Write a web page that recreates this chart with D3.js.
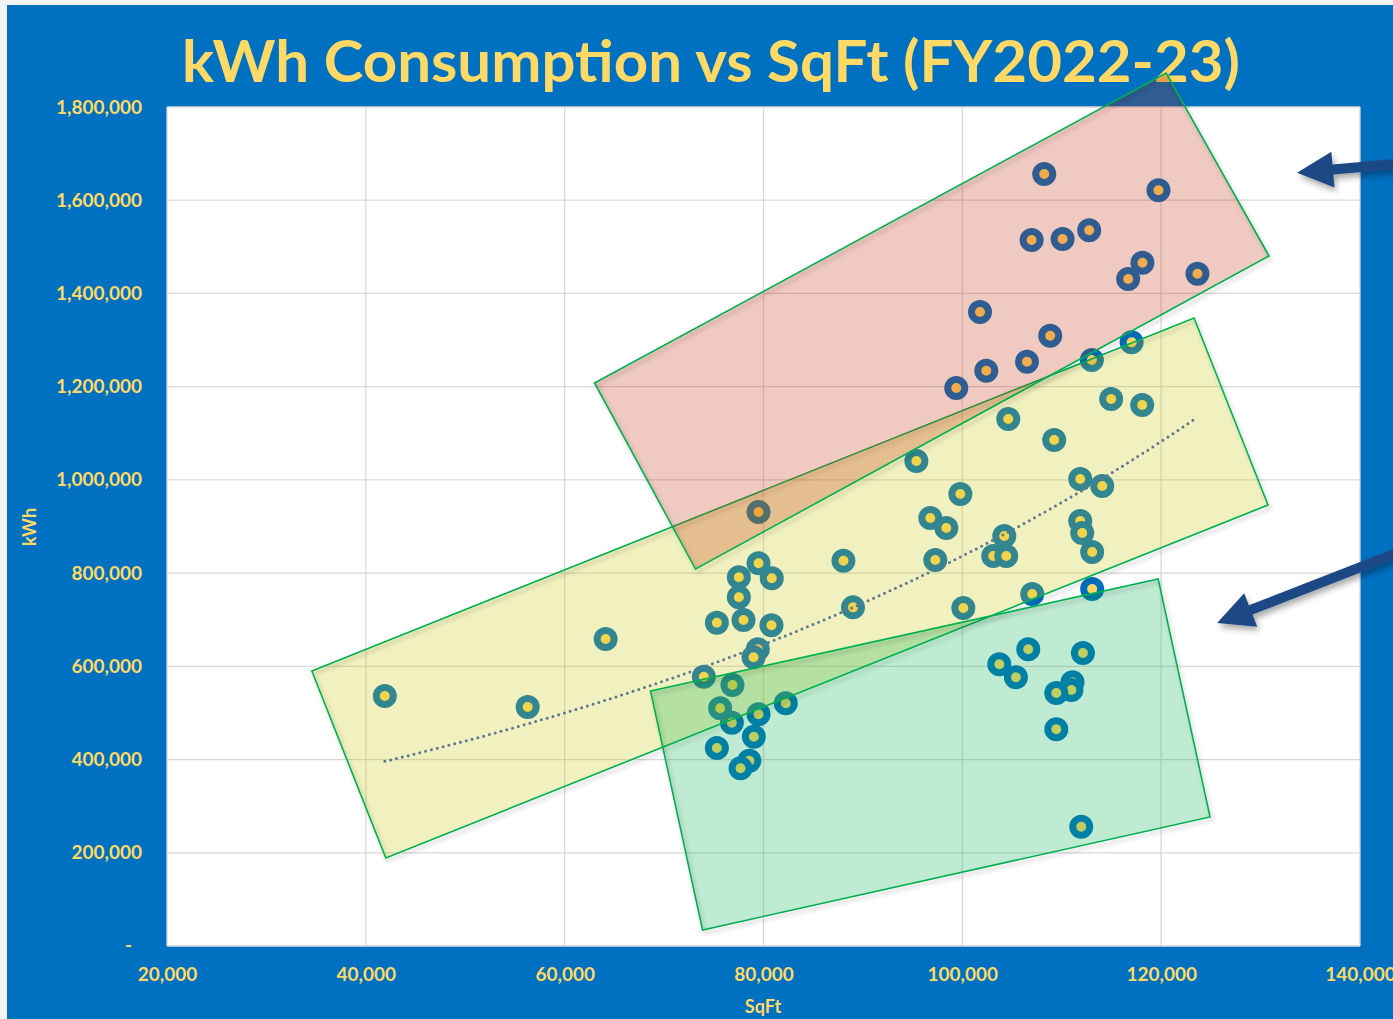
<!DOCTYPE html>
<html><head><meta charset="utf-8">
<script src="https://cdn.jsdelivr.net/npm/d3@7"></script>
<style>
body{margin:0;background:#fff;}
svg{display:block;font-family:Lato,'Open Sans',sans-serif;}
</style>
</head><body><svg id="c" width="1393" height="1019"></svg>
<script>
// ---------- data ----------
const chartTitle = "kWh Consumption vs SqFt (FY2022-23)";
const xAxisTitle = "SqFt";
const yAxisTitle = "kWh";
const xTicks = [20000, 40000, 60000, 80000, 100000, 120000, 140000];
const yTicks = [0, 200000, 400000, 600000, 800000, 1000000, 1200000, 1400000, 1600000, 1800000];

const sqft = [
  108240,119730,106970,110085,112760,118120,116680,123650,101780,108840,106500,102410,99390,113030,117030,79500,
  41910,56280,64120,114970,118090,104620,109240,95380,99800,111860,114070,96780,98390,111860,112060,104220,113060,103110,104420,97280,88040,107030,89000,100100,
  79500,77520,80830,77520,75310,77990,80800,79430,79000,74000,76880,75640,76820,79500,82240,79030,75310,78580,77690,
  113060,106630,103720,105390,112130,111080,110970,109450,109450,111960
];
const kwh = [
  1656250,1621300,1514650,1516800,1535460,1465950,1431000,1442350,1360200,1309400,1253600,1234300,1197100,1257200,1295100,931100,
  536350,512750,658640,1173500,1160700,1130600,1085600,1040500,969700,1001900,986900,918200,896800,911800,886000,879600,845300,836700,836700,828100,826600,755200,726500,725100,
  821000,791000,788800,748100,693600,699400,688000,636500,619400,577700,559950,509900,479100,497100,520700,449000,424800,397500,381200,
  765900,636500,604400,576500,628600,565700,549200,542800,464900,256000
];

// highlight zones (corners in SqFt / kWh units)
const zoneHigh = [[63010,1207860],[120500,1872900],[130850,1480300],[73160,808800]];
const zoneMid  = [[34570,589990],[123310,1347300],[130750,946100],[42010,188800]];
const zoneLow  = [[68640,547100],[119700,787400],[124920,276800],[73870,34300]];

// callout arrows: [tail, tip] in SqFt / kWh units
const arrowHigh = [[146000,1682000],[133670,1659000]];
const arrowLow  = [[146000,862000],[125630,692960]];

// ---------- drawing ----------
const W = 1393, H = 1019;
const svg = d3.select("#c");
const defs = svg.append("defs");
const sh = defs.append("filter").attr("id","shadow").attr("x","-20%").attr("y","-20%").attr("width","140%").attr("height","140%");
sh.append("feDropShadow").attr("dx",2).attr("dy",3).attr("stdDeviation",2).attr("flood-color","#000").attr("flood-opacity",0.25);
const sh2 = defs.append("filter").attr("id","shadow2").attr("x","-20%").attr("y","-20%").attr("width","140%").attr("height","140%");
sh2.append("feDropShadow").attr("dx",2).attr("dy",4).attr("stdDeviation",3).attr("flood-color","#000").attr("flood-opacity",0.35);

const BLUE = "#0070C0", GOLD = "#FFD966";
svg.append("rect").attr("width",W).attr("height",H).attr("fill","#f4f4f4");
svg.append("rect").attr("x",7).attr("y",5).attr("width",W-7).attr("height",H-5).attr("fill",BLUE);

const plot = {l:167, t:107, r:1360, b:946};
const x = d3.scaleLinear().domain([20000,140000]).range([plot.l, plot.r]);
const y = d3.scaleLinear().domain([0,1800000]).range([plot.b, plot.t]);

// title
svg.append("text").attr("x",711).attr("y",82).attr("text-anchor","middle")
  .attr("font-size",58).attr("font-weight",700).attr("fill",GOLD)
  .attr("textLength",1058).attr("lengthAdjust","spacingAndGlyphs")
  .text(chartTitle);

// plot area
svg.append("rect").attr("x",plot.l).attr("y",plot.t).attr("width",plot.r-plot.l).attr("height",plot.b-plot.t)
  .attr("fill","#fff");
const grid = svg.append("g").attr("stroke","#D9D9D9").attr("stroke-width",1.3);
grid.selectAll(".gx").data(xTicks).join("line")
  .attr("x1",d=>x(d)).attr("x2",d=>x(d)).attr("y1",plot.t).attr("y2",plot.b);
grid.selectAll(".gy").data(yTicks).join("line")
  .attr("y1",d=>y(d)).attr("y2",d=>y(d)).attr("x1",plot.l).attr("x2",plot.r);

// axes (using d3 axes, styled)
const fmt = d3.format(",");
const yAxis = d3.axisLeft(y).tickValues(yTicks).tickSize(0).tickPadding(25)
  .tickFormat(d => d === 0 ? "-" : fmt(d));
const gy = svg.append("g").attr("transform",`translate(${plot.l},0)`).call(yAxis);
gy.select(".domain").remove();
gy.selectAll("text").attr("fill",GOLD).attr("font-size",19).attr("font-weight",700)
  .attr("font-family","Lato,'Open Sans',sans-serif");
gy.selectAll(".tick").filter(d=>d===0).select("text").attr("x",-35).attr("dy","0.3em");

const xAxis = d3.axisBottom(x).tickValues(xTicks).tickSize(0).tickPadding(22).tickFormat(fmt);
const gx = svg.append("g").attr("transform",`translate(0,${plot.b})`).call(xAxis);
gx.select(".domain").remove();
gx.selectAll("text").attr("fill",GOLD).attr("font-size",19).attr("font-weight",700)
  .attr("font-family","Lato,'Open Sans',sans-serif");

svg.append("text").attr("x",763).attr("y",1013).attr("text-anchor","middle")
  .attr("fill",GOLD).attr("font-size",18).attr("font-weight",700).text(xAxisTitle);
svg.append("text").attr("transform","translate(36,527) rotate(-90)").attr("text-anchor","middle")
  .attr("fill",GOLD).attr("font-size",18).attr("font-weight",700).text(yAxisTitle);

// markers
const pts = sqft.map((s,i)=>({s, k:kwh[i]}));
svg.append("g").selectAll("circle").data(pts).join("circle")
  .attr("cx",d=>x(d.s)).attr("cy",d=>y(d.k)).attr("r",8.5)
  .attr("fill",GOLD).attr("stroke",BLUE).attr("stroke-width",7);

// exponential trendline fitted to the data (least squares on ln y)
const mx = d3.mean(pts,d=>d.s), my = d3.mean(pts,d=>Math.log(d.k));
const b = d3.sum(pts,d=>(d.s-mx)*(Math.log(d.k)-my)) / d3.sum(pts,d=>(d.s-mx)**2);
const a = Math.exp(my - b*mx);
const [xmin,xmax] = d3.extent(sqft);
const trendX = d3.range(xmin, xmax, (xmax-xmin)/120).concat([xmax]);

// zones: translucent fills, then outlines with a soft shadow
const line = d3.line().x(d=>x(d[0])).y(d=>y(d[1])).curve(d3.curveLinearClosed);
const zones = [
  {pts:zoneMid, fill:"rgb(200,200,0)", op:0.25},
  {pts:zoneHigh, fill:"rgb(192,32,0)", op:0.245},
  {pts:zoneLow, fill:"rgb(0,176,80)", op:0.25}
];
const zg = svg.append("g");
zones.forEach(z=>{
  zg.append("path").attr("d",line(z.pts)).attr("fill",z.fill).attr("fill-opacity",z.op).attr("stroke","none");
  zg.append("path").attr("d",line(z.pts)).attr("fill","none")
    .attr("stroke","#00B050").attr("stroke-width",1.6).attr("filter","url(#shadow)");
});

svg.append("path").datum(trendX)
  .attr("d", d3.line().x(d=>x(d)).y(d=>y(a*Math.exp(b*d))))
  .attr("fill","none").attr("stroke","#5A7891").attr("stroke-width",3)
  .attr("stroke-dasharray","0 6").attr("stroke-linecap","round");

// arrows
function drawArrow(arr){
  const [t0,t1] = arr;
  const p0 = [x(t0[0]),y(t0[1])], p1 = [x(t1[0]),y(t1[1])];
  const dx = p1[0]-p0[0], dy = p1[1]-p0[1], L = Math.hypot(dx,dy);
  const ux = dx/L, uy = dy/L, nx = -uy, ny = ux;
  const hl = 36, hw = 18, sw = 5;
  const bx = p1[0]-ux*hl, by = p1[1]-uy*hl;
  const poly = [
    [p0[0]+nx*sw, p0[1]+ny*sw],[bx+nx*sw, by+ny*sw],[bx+nx*hw, by+ny*hw],
    p1,[bx-nx*hw, by-ny*hw],[bx-nx*sw, by-ny*sw],[p0[0]-nx*sw, p0[1]-ny*sw]
  ];
  svg.append("path").attr("d","M"+poly.map(p=>p.join(",")).join("L")+"Z")
    .attr("fill","#1F4A86").attr("filter","url(#shadow2)");
}
drawArrow(arrowHigh);
drawArrow(arrowLow);
</script></body></html>
